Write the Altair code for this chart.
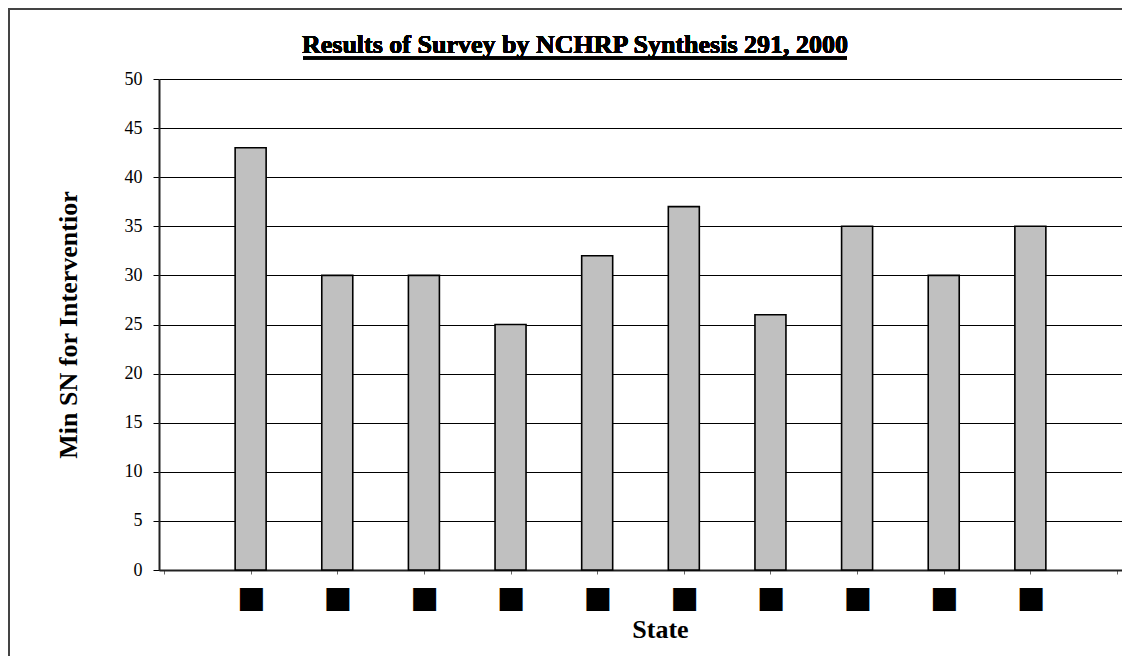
import altair as alt
import pandas as pd

# Data
positions = [1, 2, 3, 4, 5, 6, 7, 8, 9, 10]
min_sn = [43, 30, 30, 25, 32, 37, 26, 35, 30, 35]
# State names are blacked out in the reference image
state_labels = ["", "■", "■", "■", "■", "■", "■", "■", "■", "■", "■", ""]
y_ticks = [0, 5, 10, 15, 20, 25, 30, 35, 40, 45, 50]
chart_title = "Results of Survey by NCHRP Synthesis 291, 2000"

df = pd.DataFrame({"pos": positions, "sn": min_sn})

W, H = 963, 491
SERIF = "Liberation Serif, Times New Roman, serif"
label_expr = "[" + ",".join("'" + s + "'" for s in state_labels) + "][datum.value]"

bars = alt.Chart(df).mark_bar(
    size=31, color="#c0c0c0", stroke="black", strokeWidth=1.6
).encode(
    x=alt.X(
        "pos:Q",
        scale=alt.Scale(domain=[0, 11], nice=False),
        axis=alt.Axis(
            values=list(range(12)),
            grid=False,
            title="State",
            titleFont=SERIF,
            titleFontSize=26,
            titleFontWeight="bold",
            titleColor="black",
            titleAlign="center",
            titleBaseline="alphabetic",
            titleX=501,
            titleY=67,
            labelExpr=label_expr,
            labelFont="DejaVu Sans",
            labelFontSize=30,
            labelColor="black",
            labelPadding=8,
            tickSize=4,
            tickColor="#666666",
            domainColor="#222222",
            domainWidth=2,
        ),
    ),
    y=alt.Y(
        "sn:Q",
        scale=alt.Scale(domain=[0, 50], nice=False),
        axis=alt.Axis(
            values=y_ticks,
            title="Min SN for Interventior",
            titleFont=SERIF,
            titleFontSize=26,
            titleFontWeight="bold",
            titleColor="black",
            titleAngle=270,
            titleAlign="center",
            titleBaseline="middle",
            titleX=-91,
            titleY=H / 2,
            labelFont=SERIF,
            labelFontSize=18,
            labelColor="black",
            labelPadding=11,
            tickSize=6,
            tickColor="black",
            gridColor="black",
            gridWidth=1,
            gridOpacity=1,
            domainColor="#222222",
            domainWidth=2,
        ),
    ),
)

frame = alt.Chart(df).mark_rect(
    fill=None, stroke="#444444", strokeWidth=2, clip=False
).encode(
    x=alt.value(-150), x2=alt.value(W + 50), y=alt.value(-70), y2=alt.value(H + 120)
)

title_text = alt.Chart(df).mark_text(
    text=chart_title, font=SERIF, fontSize=26, fontWeight="bold", color="black",
    align="center", baseline="alphabetic", clip=False
).encode(x=alt.value(416), y=alt.value(-26))

underline = alt.Chart(df).mark_rule(color="black", strokeWidth=2.5, clip=False).encode(
    x=alt.value(144), x2=alt.value(688), y=alt.value(-21)
)

chart = alt.layer(frame, bars, title_text, underline).properties(
    width=W,
    height=H,
    autosize=alt.AutoSizeParams(type="none"),
    padding={"left": 151, "top": 71, "right": 0, "bottom": 86},
).configure_view(stroke="black", strokeWidth=1.5).configure(background="white")

chart.save("out.html", embed_options={"renderer": "svg", "actions": False})
